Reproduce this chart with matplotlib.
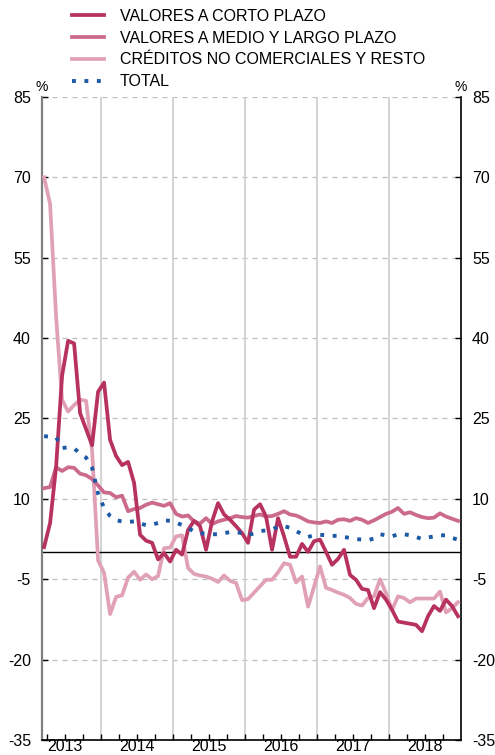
import matplotlib
matplotlib.use("Agg")
import matplotlib.pyplot as plt
from matplotlib.ticker import FixedLocator
import numpy as np

plt.rcParams["font.family"] = ["Liberation Sans", "DejaVu Sans"]
plt.rcParams["axes.unicode_minus"] = False

# monthly series, march 2013 - december 2018 (tasa interanual, %)
years = ["2013", "2014", "2015", "2016", "2017", "2018"]
y_ticks = [-35, -20, -5, 10, 25, 40, 55, 70, 85]

corto = [1.0, 5.5, 16.0, 33.0, 39.5, 39.0, 26.0, 23.0, 20.0, 30.0,
         31.7, 21.0, 18.0, 16.3, 16.9, 13.0, 3.3, 2.2, 1.8, -1.3,
         -0.1, -1.7, 0.5, -0.4, 4.2, 5.9, 4.9, 0.5, 5.8, 9.2,
         7.1, 6.1, 4.9, 3.6, 1.8, 8.0, 9.0, 6.7, 0.5, 6.4,
         3.0, -0.8, -0.8, 1.6, 0.1, 2.1, 2.4, 0.1, -2.3, -1.2,
         0.5, -4.2, -5.1, -6.8, -7.0, -10.4, -7.4, -8.8, -10.7, -12.9,
         -13.1, -13.3, -13.5, -14.7, -11.9, -10.0, -10.9, -8.8, -10.0, -11.9]

medio_largo = [12.0, 12.2, 15.9, 15.2, 15.9, 15.8, 14.7, 14.4, 13.7, 12.5,
               11.2, 11.1, 10.3, 10.6, 7.7, 8.1, 8.3, 8.9, 9.3, 9.0,
               8.7, 9.2, 7.2, 6.7, 6.9, 5.8, 5.4, 6.4, 5.3, 5.8,
               6.1, 6.4, 6.8, 6.6, 6.5, 6.8, 7.1, 6.7, 6.8, 7.2,
               7.7, 7.1, 6.9, 6.4, 5.8, 5.6, 5.5, 5.8, 5.5, 6.1,
               6.2, 5.9, 6.4, 6.1, 5.5, 6.0, 6.6, 7.2, 7.6, 8.3,
               7.2, 7.5, 7.0, 6.6, 6.4, 6.5, 7.3, 6.7, 6.3, 5.9]

creditos = [70.0, 65.0, 44.0, 28.5, 26.3, 27.5, 28.5, 28.3, 19.0, -1.5,
            -3.8, -11.5, -8.3, -8.0, -4.7, -3.6, -5.1, -4.1, -5.0, -4.4,
            0.8, 0.9, 3.0, 3.2, -2.9, -4.0, -4.3, -4.5, -4.9, -5.5,
            -4.3, -5.3, -5.7, -8.9, -8.7, -7.5, -6.3, -5.1, -5.1, -3.7,
            -2.0, -2.3, -5.6, -4.5, -10.1, -6.4, -2.6, -6.6, -7.0, -7.5,
            -7.9, -8.5, -9.6, -9.9, -8.5, -8.2, -5.0, -7.6, -10.7, -8.2,
            -8.5, -9.3, -8.6, -8.6, -8.6, -8.6, -7.3, -11.2, -10.4, -9.3]

total = [21.7, 21.6, 21.5, 19.5, 19.6, 19.4, 18.5, 17.7, 15.8, 11.0,
         8.3, 6.8, 6.0, 5.8, 5.7, 5.8, 5.4, 5.1, 5.2, 5.5,
         6.0, 5.9, 5.6, 5.1, 4.6, 3.9, 3.6, 3.5, 3.4, 3.4,
         3.6, 3.8, 3.8, 3.6, 3.2, 3.6, 4.0, 4.1, 4.3, 4.8,
         4.9, 4.6, 4.0, 3.4, 2.9, 3.2, 3.3, 3.2, 3.1, 3.1,
         2.9, 2.7, 2.5, 2.4, 2.3, 2.6, 3.4, 3.2, 3.0, 3.4,
         3.4, 3.2, 2.9, 2.5, 2.8, 3.0, 3.2, 3.2, 2.7, 2.4]

labels = ["VALORES A CORTO PLAZO", "VALORES A MEDIO Y LARGO PLAZO",
          "CRÉDITOS NO COMERCIALES Y RESTO", "TOTAL"]
colors = ["#b8325f", "#cc6a8d", "#e1a1b5", "#1d5aa5"]

x = np.arange(len(corto))
year_edges = [9.5 + 12 * k for k in range(5)]
x_min, x_max = -0.35, 69.5
fs = 11.5

fig = plt.figure(figsize=(4.95, 7.55), dpi=100)
ax = fig.add_axes([42 / 495, 15 / 755, 419 / 495, 643 / 755])

for v in y_ticks[1:]:
    ax.axhline(v, color="#bdbdbd", lw=0.9, ls=(0, (4, 4)), zorder=1)
for e in year_edges:
    ax.axvline(e, color="#d0d0d0", lw=1.3, zorder=1)
ax.axhline(0, color="black", lw=1.0, zorder=2)

ax.plot(x, creditos, color=colors[2], lw=2.7, zorder=3, label=labels[2])
ax.plot(x, medio_largo, color=colors[1], lw=2.7, zorder=4, label=labels[1])
ax.plot(x, corto, color=colors[0], lw=2.7, zorder=5, label=labels[0])
ax.plot(x, total, color=colors[3], lw=2.8, ls=(0, (1, 2.2)),
        dash_capstyle="butt", zorder=6, label=labels[3])

ax.set_xlim(x_min, x_max)
ax.set_ylim(-35, 85)
ax.set_yticks(y_ticks)
ax.tick_params(axis="y", direction="in", length=4, width=1, labelsize=fs,
               left=True, right=True, labelleft=True, labelright=True, pad=8)

ax.xaxis.set_major_locator(FixedLocator(year_edges))
ax.xaxis.set_minor_locator(FixedLocator([0.5 + 3 * k for k in range(23)]))
ax.tick_params(axis="x", which="both", direction="in", length=4, width=1,
               labelbottom=False)

# year names sit at the middle of each calendar year
for i, yr in enumerate(years):
    mid = year_edges[0] - 6 + 12 * i
    xf = ax.transData.transform((mid, 0))[0] / fig.bbox.width
    fig.text(xf, 1 / 755, yr, ha="center", va="bottom", fontsize=fs)

ax.spines["top"].set_visible(False)
ax.spines["left"].set_color("#808080")
ax.spines["left"].set_linewidth(1.6)
ax.spines["right"].set_linewidth(1.2)
ax.spines["bottom"].set_linewidth(1.2)

fig.text(42 / 495, 1 - 87 / 755, "%", ha="center", va="center", fontsize=10)
fig.text(461 / 495, 1 - 87 / 755, "%", ha="center", va="center", fontsize=10)

handles, hl = ax.get_legend_handles_labels()
order = [2, 1, 0, 3]
fig.legend([handles[i] for i in order], [hl[i] for i in order],
           loc="upper left", bbox_to_anchor=(72 / 495, 1 - 9 / 755),
           frameon=False, fontsize=fs, handlelength=2.0, handletextpad=1.0,
           labelspacing=0.42, borderpad=0, borderaxespad=0)

fig.savefig("out.png", dpi=100)
